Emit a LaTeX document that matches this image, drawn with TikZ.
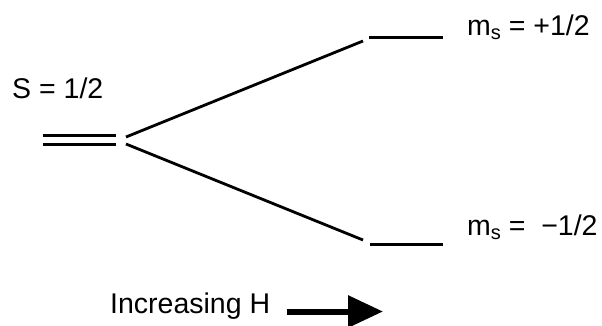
\documentclass[tikz,border=0pt]{standalone}
\usepackage{fontspec}
\setmainfont{Liberation Sans}
\usetikzlibrary{arrows.meta}
\newcommand{\msub}{m\raisebox{-0.28ex}{\fontsize{20}{20}\selectfont s}}
\begin{document}
\begin{tikzpicture}[x=1pt,y=1pt,
  lvl/.style={line width=3pt},
  conn/.style={line width=2.8pt},
  lbl/.style={inner sep=0pt,anchor=base west,font=\fontsize{28.5}{30}\selectfont}]
\useasboundingbox (0,0) rectangle (602,325);
% degenerate level (double line)
\coordinate (d1a) at (42.7,189.8); \coordinate (d1b) at (116,189.8);
\coordinate (d2a) at (42.7,180.3); \coordinate (d2b) at (116,180.3);
\draw[lvl] (d1a) -- (d1b);
\draw[lvl] (d2a) -- (d2b);
% split levels
\coordinate (ua) at (369,287.7); \coordinate (ub) at (443,287.7);
\coordinate (la) at (370,81);    \coordinate (lb) at (443,81);
\draw[lvl] (ua) -- (ub);
\draw[lvl] (la) -- (lb);
% connectors
\coordinate (cs1) at (126,188); \coordinate (ce1) at (363,284);
\coordinate (cs2) at (126,181); \coordinate (ce2) at (363,85);
\draw[conn] (cs1) -- (ce1);
\draw[conn] (cs2) -- (ce2);
% labels
\node[lbl] (S) at (12,227) {S = 1/2};
\node[lbl] (mp) at (467,290) {\msub\ = +1/2};
\node[lbl] (mm) at (467,90) {\msub\ =\ \ −1/2};
\node[lbl] (H) at (110,12) {Increasing H};
% arrow
\coordinate (as) at (286.7,13.5); \coordinate (ae) at (383,13.5);
\draw[line width=6pt,-{Triangle[length=35pt,width=31pt]}] (as) -- (ae);
\end{tikzpicture}
\end{document}
